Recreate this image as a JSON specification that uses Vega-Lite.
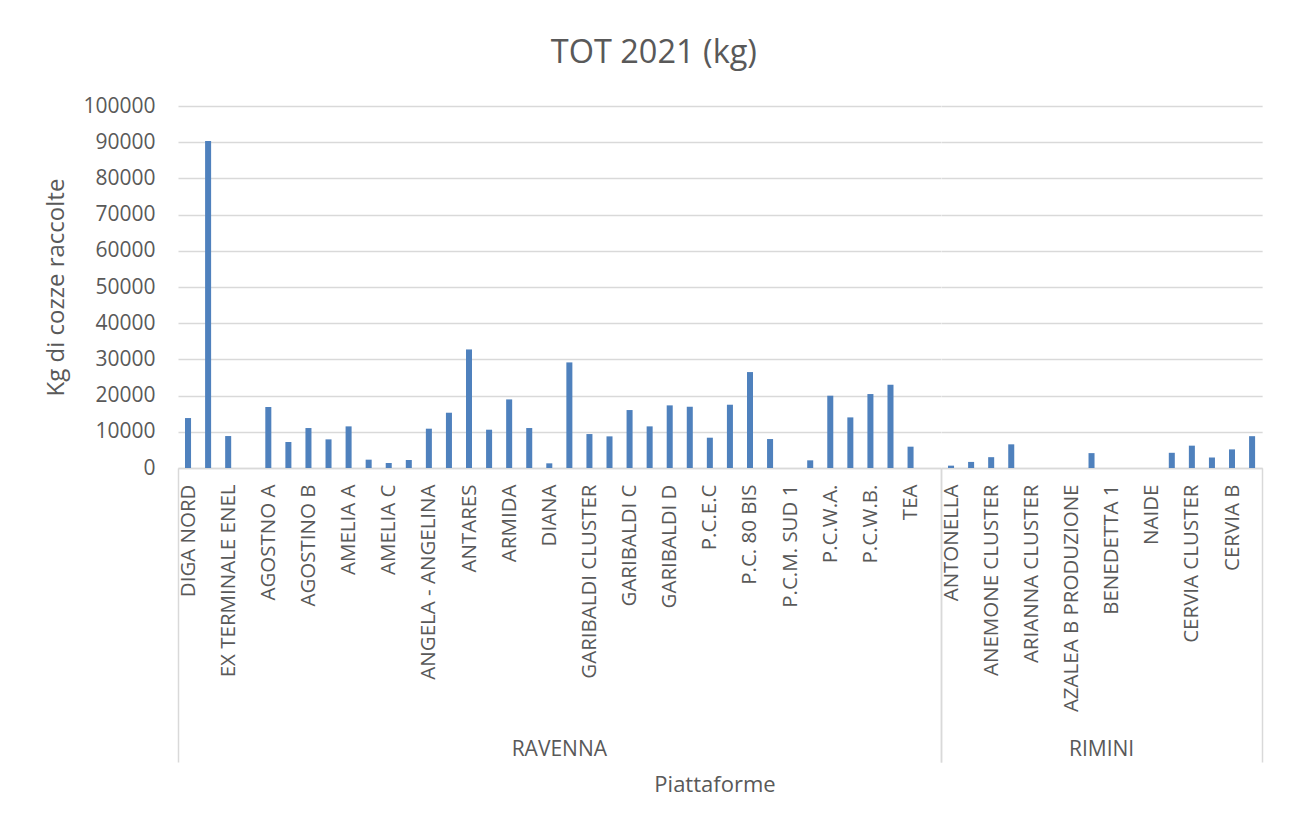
{
  "$schema": "https://vega.github.io/schema/vega-lite/v6.json",
  "padding": {"left": 44, "top": 37, "right": 10, "bottom": 10},
  "background": "white",
  "bounds": "flush",
  "title": {
    "text": "TOT 2021 (kg)",
    "font": "Open Sans",
    "fontSize": 32.5,
    "fontWeight": "normal",
    "color": "#595959",
    "anchor": "middle",
    "frame": "bounds",
    "offset": 25.5
  },
  "data": {
    "values": [
      {"zona": "RAVENNA", "piattaforma": "DIGA NORD", "kg": 13800},
      {"zona": "RAVENNA", "piattaforma": "DIGA SUD", "kg": 90300},
      {"zona": "RAVENNA", "piattaforma": "EX TERMINALE ENEL", "kg": 8830},
      {"zona": "RAVENNA", "piattaforma": "PORTO CORSINI", "kg": 0},
      {"zona": "RAVENNA", "piattaforma": "AGOSTNO A", "kg": 16840},
      {"zona": "RAVENNA", "piattaforma": "AGOSTINO 2", "kg": 7180},
      {"zona": "RAVENNA", "piattaforma": "AGOSTINO B", "kg": 11040},
      {"zona": "RAVENNA", "piattaforma": "AGOSTINO C", "kg": 7910},
      {"zona": "RAVENNA", "piattaforma": "AMELIA A", "kg": 11500},
      {"zona": "RAVENNA", "piattaforma": "AMELIA B", "kg": 2300},
      {"zona": "RAVENNA", "piattaforma": "AMELIA C", "kg": 1380},
      {"zona": "RAVENNA", "piattaforma": "AMELIA D", "kg": 2210},
      {"zona": "RAVENNA", "piattaforma": "ANGELA - ANGELINA", "kg": 10860},
      {"zona": "RAVENNA", "piattaforma": "ANNALISA", "kg": 15270},
      {"zona": "RAVENNA", "piattaforma": "ANTARES", "kg": 32750},
      {"zona": "RAVENNA", "piattaforma": "ARGO", "kg": 10580},
      {"zona": "RAVENNA", "piattaforma": "ARMIDA", "kg": 18950},
      {"zona": "RAVENNA", "piattaforma": "CALPURNIA", "kg": 11040},
      {"zona": "RAVENNA", "piattaforma": "DIANA", "kg": 1290},
      {"zona": "RAVENNA", "piattaforma": "GARIBALDI A", "kg": 29170},
      {"zona": "RAVENNA", "piattaforma": "GARIBALDI CLUSTER", "kg": 9380},
      {"zona": "RAVENNA", "piattaforma": "GARIBALDI B", "kg": 8740},
      {"zona": "RAVENNA", "piattaforma": "GARIBALDI C", "kg": 16010},
      {"zona": "RAVENNA", "piattaforma": "GARIBALDI C CLUSTER", "kg": 11500},
      {"zona": "RAVENNA", "piattaforma": "GARIBALDI D", "kg": 17300},
      {"zona": "RAVENNA", "piattaforma": "P.C.C.", "kg": 16930},
      {"zona": "RAVENNA", "piattaforma": "P.C.E.C", "kg": 8370},
      {"zona": "RAVENNA", "piattaforma": "P.C. 73", "kg": 17480},
      {"zona": "RAVENNA", "piattaforma": "P.C. 80 BIS", "kg": 26500},
      {"zona": "RAVENNA", "piattaforma": "P.C.M. NORD", "kg": 8000},
      {"zona": "RAVENNA", "piattaforma": "P.C.M. SUD 1", "kg": 0},
      {"zona": "RAVENNA", "piattaforma": "P.C.M. SUD 2", "kg": 2120},
      {"zona": "RAVENNA", "piattaforma": "P.C.W.A.", "kg": 19970},
      {"zona": "RAVENNA", "piattaforma": "P.C.W.A. 2", "kg": 13980},
      {"zona": "RAVENNA", "piattaforma": "P.C.W.B.", "kg": 20430},
      {"zona": "RAVENNA", "piattaforma": "P.C.W.C.", "kg": 23000},
      {"zona": "RAVENNA", "piattaforma": "TEA", "kg": 5890},
      {"zona": "RAVENNA", "piattaforma": "VIOLA", "kg": 0},
      {"zona": "RIMINI", "piattaforma": "ANTONELLA", "kg": 650},
      {"zona": "RIMINI", "piattaforma": "ANEMONE B", "kg": 1680},
      {"zona": "RIMINI", "piattaforma": "ANEMONE CLUSTER", "kg": 2990},
      {"zona": "RIMINI", "piattaforma": "ARIANNA A", "kg": 6540},
      {"zona": "RIMINI", "piattaforma": "ARIANNA CLUSTER", "kg": 0},
      {"zona": "RIMINI", "piattaforma": "AZALEA A", "kg": 0},
      {"zona": "RIMINI", "piattaforma": "AZALEA B PRODUZIONE", "kg": 0},
      {"zona": "RIMINI", "piattaforma": "AZALEA B CLUSTER", "kg": 4110},
      {"zona": "RIMINI", "piattaforma": "BENEDETTA 1", "kg": 0},
      {"zona": "RIMINI", "piattaforma": "BEATRICE", "kg": 0},
      {"zona": "RIMINI", "piattaforma": "NAIDE", "kg": 0},
      {"zona": "RIMINI", "piattaforma": "CERVIA A", "kg": 4200},
      {"zona": "RIMINI", "piattaforma": "CERVIA CLUSTER", "kg": 6170},
      {"zona": "RIMINI", "piattaforma": "CERVIA C", "kg": 2900},
      {"zona": "RIMINI", "piattaforma": "CERVIA B", "kg": 5140},
      {"zona": "RIMINI", "piattaforma": "REGINA", "kg": 8790}
    ]
  },
  "facet": {
    "column": {
      "field": "zona",
      "type": "nominal",
      "sort": ["RAVENNA", "RIMINI"],
      "title": "Piattaforme",
      "header": {
        "labelOrient": "bottom",
        "titleOrient": "bottom",
        "labelFont": "Open Sans",
        "labelFontSize": 21,
        "labelColor": "#595959",
        "labelPadding": 271,
        "titleFont": "Open Sans",
        "titleFontSize": 22,
        "titleFontWeight": "normal",
        "titleColor": "#595959",
        "titlePadding": 5
      }
    }
  },
  "spacing": 0,
  "resolve": {"scale": {"x": "independent"}},
  "spec": {
    "width": {"step": 20.07},
    "height": 362,
    "mark": {"type": "bar", "color": "#4f81bd", "width": {"band": 0.3}},
    "encoding": {
      "x": {
        "field": "piattaforma",
        "type": "nominal",
        "sort": null,
        "scale": {"paddingInner": 0, "paddingOuter": 0},
        "axis": {
          "title": null,
          "labelAngle": -90,
          "labelFont": "Open Sans",
          "labelFontSize": 20.5,
          "labelColor": "#595959",
          "labelLimit": 400,
          "labelExpr": "indexof(['DIGA NORD','EX TERMINALE ENEL','AGOSTNO A','AGOSTINO B','AMELIA A','AMELIA C','ANGELA - ANGELINA','ANTARES','ARMIDA','DIANA','GARIBALDI CLUSTER','GARIBALDI C','GARIBALDI D','P.C.E.C','P.C. 80 BIS','P.C.M. SUD 1','P.C.W.A.','P.C.W.B.','TEA','ANTONELLA','ANEMONE CLUSTER','ARIANNA CLUSTER','AZALEA B PRODUZIONE','BENEDETTA 1','NAIDE','CERVIA CLUSTER','CERVIA B'], datum.value) >= 0 ? datum.label : ''",
          "labelOverlap": false,
          "labelPadding": -278,
          "tickBand": "extent",
          "tickSize": 294,
          "tickWidth": 1.5,
          "tickColor": "#d9d9d9",
          "tickOpacity": {"condition": {"test": "!isValid(datum.value) || datum.value === 'VIOLA' || datum.value === 'REGINA'", "value": 1}, "value": 0},
          "domainColor": "#d9d9d9",
          "domainWidth": 1.5,
          "grid": false
        }
      },
      "y": {
        "field": "kg",
        "type": "quantitative",
        "scale": {"domain": [0, 100000], "nice": false},
        "axis": {
          "title": "Kg di cozze raccolte",
          "titleFont": "Open Sans",
          "titleFontSize": 24,
          "titleFontWeight": "normal",
          "titleColor": "#595959",
          "titlePadding": 14,
          "values": [0, 10000, 20000, 30000, 40000, 50000, 60000, 70000, 80000, 90000, 100000],
          "format": "d",
          "labelFont": "Open Sans",
          "labelFontSize": 21,
          "labelColor": "#595959",
          "labelPadding": 23,
          "ticks": false,
          "domain": false,
          "grid": true,
          "gridColor": "#d9d9d9",
          "gridWidth": 1.5
        }
      }
    }
  },
  "config": {
    "view": {"stroke": null},
    "font": "Open Sans"
  }
}
